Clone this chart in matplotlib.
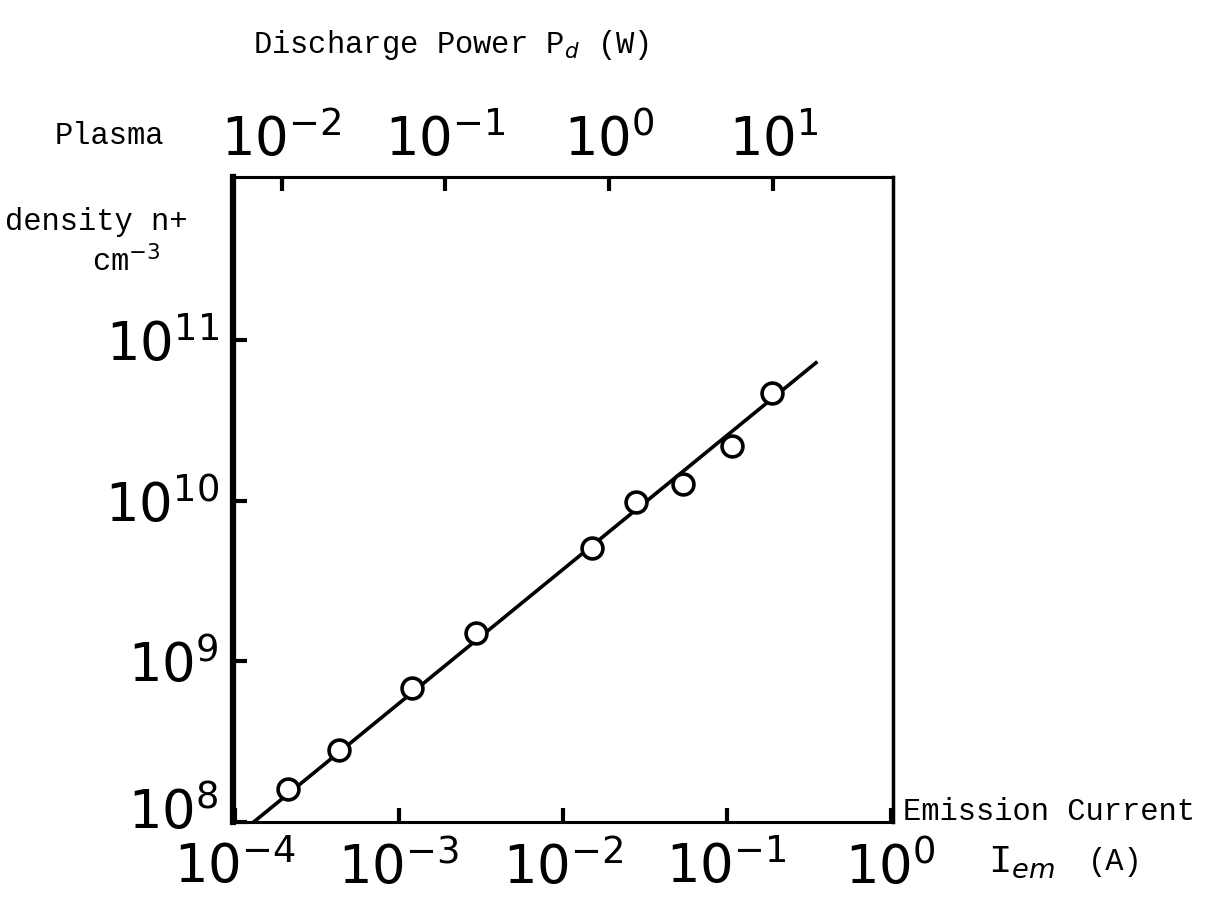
import matplotlib
matplotlib.use('Agg')
import matplotlib.pyplot as plt
import numpy as np
from matplotlib.ticker import LogFormatterMathtext, NullLocator, FixedLocator
from matplotlib.transforms import ScaledTranslation

# measured points: emission current (A) vs plasma density n+ (cm^-3)
emission_current = [2.1e-4, 4.3e-4, 1.2e-3, 2.95e-3, 1.5e-2, 2.8e-2, 5.4e-2, 1.07e-1, 1.9e-1]
plasma_density = [1.6e8, 2.8e8, 6.8e8, 1.5e9, 5.1e9, 9.8e9, 1.26e10, 2.2e10, 4.7e10]

# straight fitted line, end points
fit_current = [1.3e-4, 3.5e-1]
fit_density = [1.0e8, 7.2e10]

# tick positions
bottom_ticks = [1e-4, 1e-3, 1e-2, 1e-1, 1e0]
left_ticks = [1e8, 1e9, 1e10, 1e11]
top_ticks = [1e-2, 1e-1, 1e0, 1e1]

# discharge power = current * this factor (top axis scale)
POWER_PER_AMP = 52.0

mono = 'Liberation Mono'
TXT = 22

fig = plt.figure(figsize=(12.19, 8.97), dpi=100)
ax = fig.add_axes([0.191, 0.0836, 0.5414, 0.719])

ax.plot(fit_current, fit_density, '-', color='black', lw=2.6, zorder=2)
ax.plot(emission_current, plasma_density, 'o', ms=15, mfc='white',
        mec='black', mew=2.6, zorder=3)

ax.set_xscale('log')
ax.set_yscale('log')
ax.set_xlim(0.97e-4, 1.03)
ax.set_ylim(1.0e8, 1.03e12)

ax.xaxis.set_major_locator(FixedLocator(bottom_ticks))
ax.xaxis.set_minor_locator(NullLocator())
ax.xaxis.set_major_formatter(LogFormatterMathtext())
ax.yaxis.set_major_locator(FixedLocator(left_ticks))
ax.yaxis.set_minor_locator(NullLocator())
ax.yaxis.set_major_formatter(LogFormatterMathtext())

ax.tick_params(axis='both', direction='in', length=10, width=3,
               labelsize=38)
ax.tick_params(axis='x', pad=14)
ax.tick_params(axis='y', pad=10)

for side, w in [('left', 4.5), ('right', 2.5), ('top', 2.2), ('bottom', 2.2)]:
    ax.spines[side].set_linewidth(w)

# lift the 10^8 label a bit so it clears the bottom labels (as in the original)
t0 = ax.yaxis.get_major_ticks()[0]
t0.label1.set_transform(t0.label1.get_transform() +
                        ScaledTranslation(0, 0.14, fig.dpi_scale_trans))

# top axis: discharge power
sec = ax.secondary_xaxis('top', functions=(lambda x: x * POWER_PER_AMP,
                                           lambda p: p / POWER_PER_AMP))
sec.xaxis.set_major_locator(FixedLocator(top_ticks))
sec.xaxis.set_minor_locator(NullLocator())
sec.xaxis.set_major_formatter(LogFormatterMathtext())
sec.tick_params(direction='in', length=10, width=3, labelsize=38, pad=7)
sec.spines['top'].set_linewidth(2.2)

# labels placed as in the original typewritten figure
fig.text(253 / 1219, 1 - 45 / 897, 'Discharge Power P$_d$ (W)', family=mono,
         fontsize=TXT, ha='left', va='center')
fig.text(55 / 1219, 1 - 136 / 897, 'Plasma', family=mono, fontsize=TXT,
         ha='left', va='center')
fig.text(5 / 1219, 1 - 222 / 897, 'density n+', family=mono, fontsize=TXT,
         ha='left', va='center')
fig.text(92 / 1219, 1 - 262 / 897, 'cm$^{-3}$', family=mono, fontsize=TXT,
         ha='left', va='center')
fig.text(903 / 1219, 1 - 812 / 897, 'Emission Current', family=mono,
         fontsize=TXT, ha='left', va='center')
fig.text(988 / 1219, 1 - 862 / 897, 'I$_{em}$', family=mono, fontsize=28,
         ha='left', va='center')
fig.text(1088 / 1219, 1 - 862 / 897, '(A)', family=mono, fontsize=TXT,
         ha='left', va='center')

fig.savefig('out.png', dpi=100)
